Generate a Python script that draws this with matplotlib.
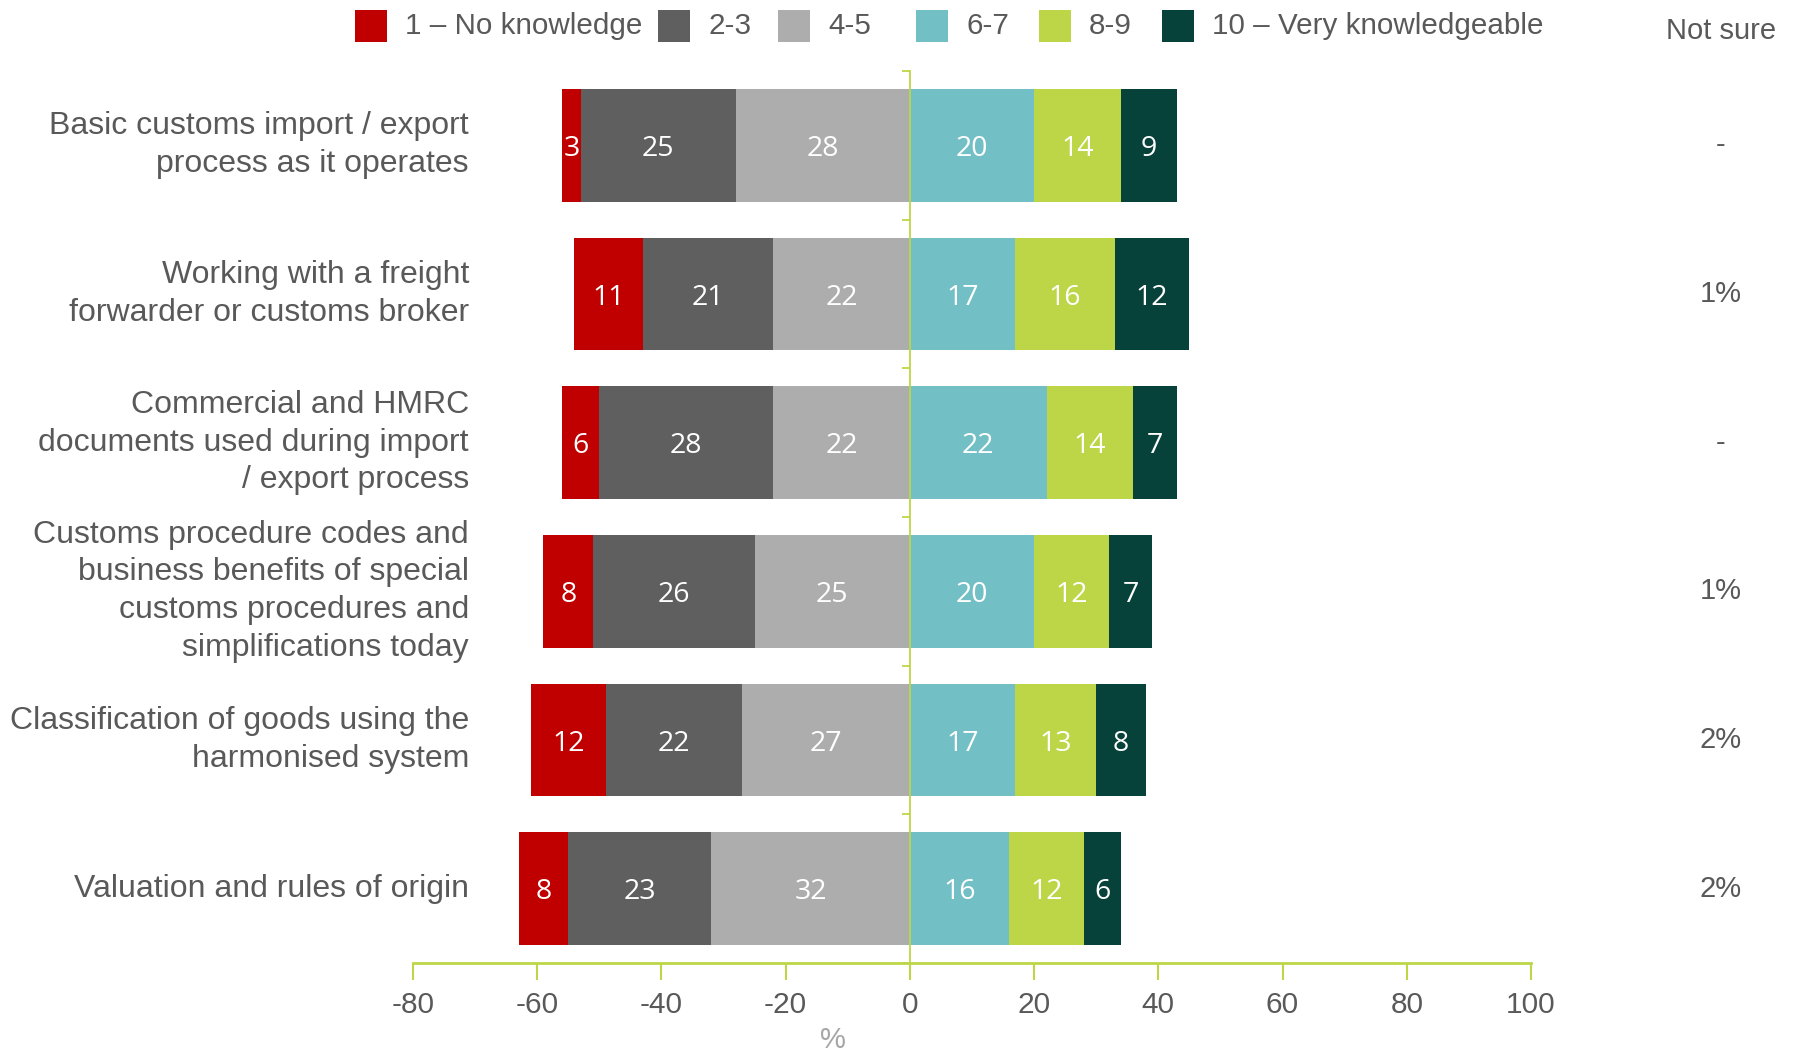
import matplotlib
matplotlib.use("Agg")
import matplotlib.pyplot as plt
import matplotlib.transforms as mtransforms
from matplotlib.patches import Rectangle
import numpy as np

categories = [
    "Basic customs import / export\nprocess as it operates",
    "Working with a freight\nforwarder or customs broker",
    "Commercial and HMRC\ndocuments used during import\n/ export process",
    "Customs procedure codes and\nbusiness benefits of special\ncustoms procedures and\nsimplifications today",
    "Classification of goods using the\nharmonised system",
    "Valuation and rules of origin",
]
series_names = ["1 \u2013 No knowledge", "2-3", "4-5", "6-7", "8-9", "10 \u2013 Very knowledgeable"]
no_knowledge = [3, 11, 6, 8, 12, 8]
s2_3 = [25, 21, 28, 26, 22, 23]
s4_5 = [28, 22, 22, 25, 27, 32]
s6_7 = [20, 17, 22, 20, 17, 16]
s8_9 = [14, 16, 14, 12, 13, 12]
very = [9, 12, 7, 7, 8, 6]
not_sure = ["-", "1%", "-", "1%", "2%", "2%"]
xticks = [-80, -60, -40, -20, 0, 20, 40, 60, 80, 100]

colors = ["#C00000", "#5F5F5F", "#ADADAD", "#72BFC5", "#BDD647", "#06423A"]
line_col = "#BDD647"
text_col = "#595959"

W, H = 1795, 1056
fig = plt.figure(figsize=(W / 100, H / 100), dpi=100)
ax = fig.add_axes([413 / W, 1 - 963 / H, (1531 - 413) / W, (963 - 71) / H])

n = len(categories)
y = np.arange(n)
bh = 0.76

neg_series = [s4_5, s2_3, no_knowledge]
neg_cols = [colors[2], colors[1], colors[0]]
left = np.zeros(n)
for vals, c in zip(neg_series, neg_cols):
    v = np.array(vals, float)
    bars = ax.barh(y, -v, left=-left, height=bh, color=c, edgecolor="none")
    for b, val in zip(bars, vals):
        ax.text(b.get_x() + b.get_width() / 2, b.get_y() + b.get_height() / 2, str(val),
                ha="center", va="center_baseline", color="white", fontsize=20.5, family="Open Sans")
    left = left + v

pos_series = [s6_7, s8_9, very]
pos_cols = [colors[3], colors[4], colors[5]]
left = np.zeros(n)
for vals, c in zip(pos_series, pos_cols):
    v = np.array(vals, float)
    bars = ax.barh(y, v, left=left, height=bh, color=c, edgecolor="none")
    for b, val in zip(bars, vals):
        ax.text(b.get_x() + b.get_width() / 2, b.get_y() + b.get_height() / 2, str(val),
                ha="center", va="center_baseline", color="white", fontsize=20.5, family="Open Sans")
    left = left + v

ax.set_xlim(-80, 100)
ax.set_ylim(n - 0.5, -0.5)
ax.set_xticks(xticks)
ax.set_xticklabels([str(t) for t in xticks])
ax.tick_params(axis="x", colors=line_col, length=12, width=1.5, direction="out", pad=8,
               labelcolor=text_col, labelsize=21.5)
for lab in ax.get_xticklabels():
    lab.set_family("Liberation Sans")

for s in ["top", "right"]:
    ax.spines[s].set_visible(False)
ax.spines["bottom"].set_color(line_col)
ax.spines["bottom"].set_linewidth(2.0)
ax.spines["left"].set_position(("data", 0))
ax.spines["left"].set_color(line_col)
ax.spines["left"].set_linewidth(1.3)
ax.spines["left"].set_zorder(5)
ax.set_yticks(np.arange(n + 1) - 0.5)
ax.set_yticklabels([])
ax.tick_params(axis="y", colors=line_col, length=6, width=1.3, direction="out")

trans = mtransforms.blended_transform_factory(fig.transFigure, ax.transData)
for yi, cat in zip(y, categories):
    t = fig.text(469 / W, 0, cat, transform=trans, ha="right", va="center", fontsize=23,
                 color=text_col, family="Liberation Sans", linespacing=1.34)
    t.set_y(yi)

fig.text(1721 / W, 1 - 31 / H, "Not sure", ha="center", va="center", fontsize=21,
         color=text_col, family="Liberation Sans")
for yi, ns in zip(y, not_sure):
    t = fig.text(1721 / W, 0, ns, transform=trans, ha="center", va="center", fontsize=21,
                 color=text_col, family="Liberation Sans")
    t.set_y(yi)

fig.text(833 / W, 1 - 1040 / H, "%", ha="center", va="center", fontsize=21,
         color="#A6A6A6", family="Liberation Sans")

patch_x = [355, 658, 778, 916, 1039, 1162]
ly = 26
ps = 32
for px, c, name in zip(patch_x, colors, series_names):
    fig.patches.append(Rectangle((px / W, 1 - (ly + ps / 2) / H), ps / W, ps / H,
                                 transform=fig.transFigure, facecolor=c, edgecolor="none"))
    fig.text((px + ps + 18) / W, 1 - ly / H, name, ha="left", va="center", fontsize=21.3,
             color=text_col, family="Liberation Sans")

fig.savefig("out.png", dpi=100)
